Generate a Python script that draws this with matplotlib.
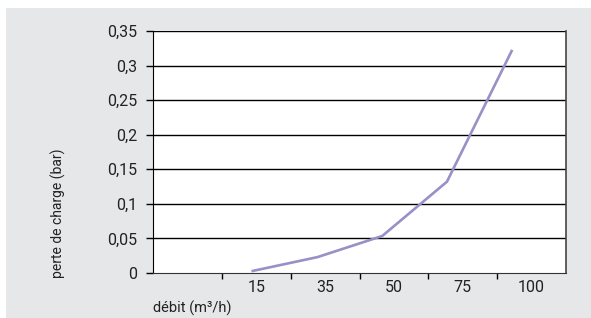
import numpy as np
import matplotlib
matplotlib.use("Agg")
import matplotlib.pyplot as plt
from matplotlib.patches import Rectangle

# données
debit = ["", "15", "35", "50", "75", "100"]
perte = [0.003, 0.023, 0.0535, 0.132, 0.321]
yticks = [0, 0.05, 0.1, 0.15, 0.2, 0.25, 0.3, 0.35]
ylabels = ["0", "0,05", "0,1", "0,15", "0,2", "0,25", "0,3", "0,35"]

plt.rcParams['font.family'] = ['Liberation Sans Narrow', 'Roboto', 'DejaVu Sans']

W, H = 591, 318
fig = plt.figure(figsize=(W / 100, H / 100), dpi=100)
fig.patch.set_facecolor("white")
bg = Rectangle((6 / W, 0), 1 - 6 / W, 1 - 8 / H, transform=fig.transFigure,
               facecolor="#e6e7e9", edgecolor="none")
bg.set_zorder(-10)
fig.add_artist(bg)

ax = fig.add_axes([153 / W, 1 - 273 / H, (566 - 153) / W, (273 - 31) / H])
ax.set_zorder(5)
ax.set_facecolor("white")

# la courbe est un peu décalée par rapport aux centres des catégories
xs = 1.45 + 0.94 * np.arange(len(perte))
ax.plot(xs, perte, color="#9a8fc6", lw=1.9, solid_joinstyle="miter", zorder=3)

ax.set_xlim(0, len(debit))
ax.set_ylim(0, 0.35)
for y in yticks[1:]:
    ax.axhline(y, color="black", lw=1.0, zorder=1)

ax.set_yticks(yticks)
ax.set_yticklabels(ylabels, fontsize=11.5, color="#222222")
ax.tick_params(axis="y", length=5, width=1, pad=6.5)

ax.set_xticks(np.arange(1, len(debit)))
ax.set_xticks(np.arange(len(debit)) + 0.5, minor=True)
ax.set_xticklabels([])
ax.set_xticklabels(debit, minor=True, fontsize=11.5, color="#222222")
ax.tick_params(axis="x", which="major", length=4.3, width=1, direction="out")
ax.tick_params(axis="x", which="minor", length=0, pad=5)

ax.spines["top"].set_visible(False)
ax.spines["left"].set_color("black")
ax.spines["bottom"].set_color("#333333")
ax.spines["right"].set_color("#444444")
ax.spines["right"].set_linewidth(1.2)

fig.text(58 / W, 1 - 213 / H, "perte de charge (bar)", rotation=90, ha="center", va="center",
         fontsize=10, color="#222222")
fig.text(153 / W, 1 - 308 / H, "débit (m³/h)", ha="left", va="center",
         fontsize=10.5, color="#222222")

fig.savefig("out.png", dpi=100, facecolor=fig.get_facecolor())
